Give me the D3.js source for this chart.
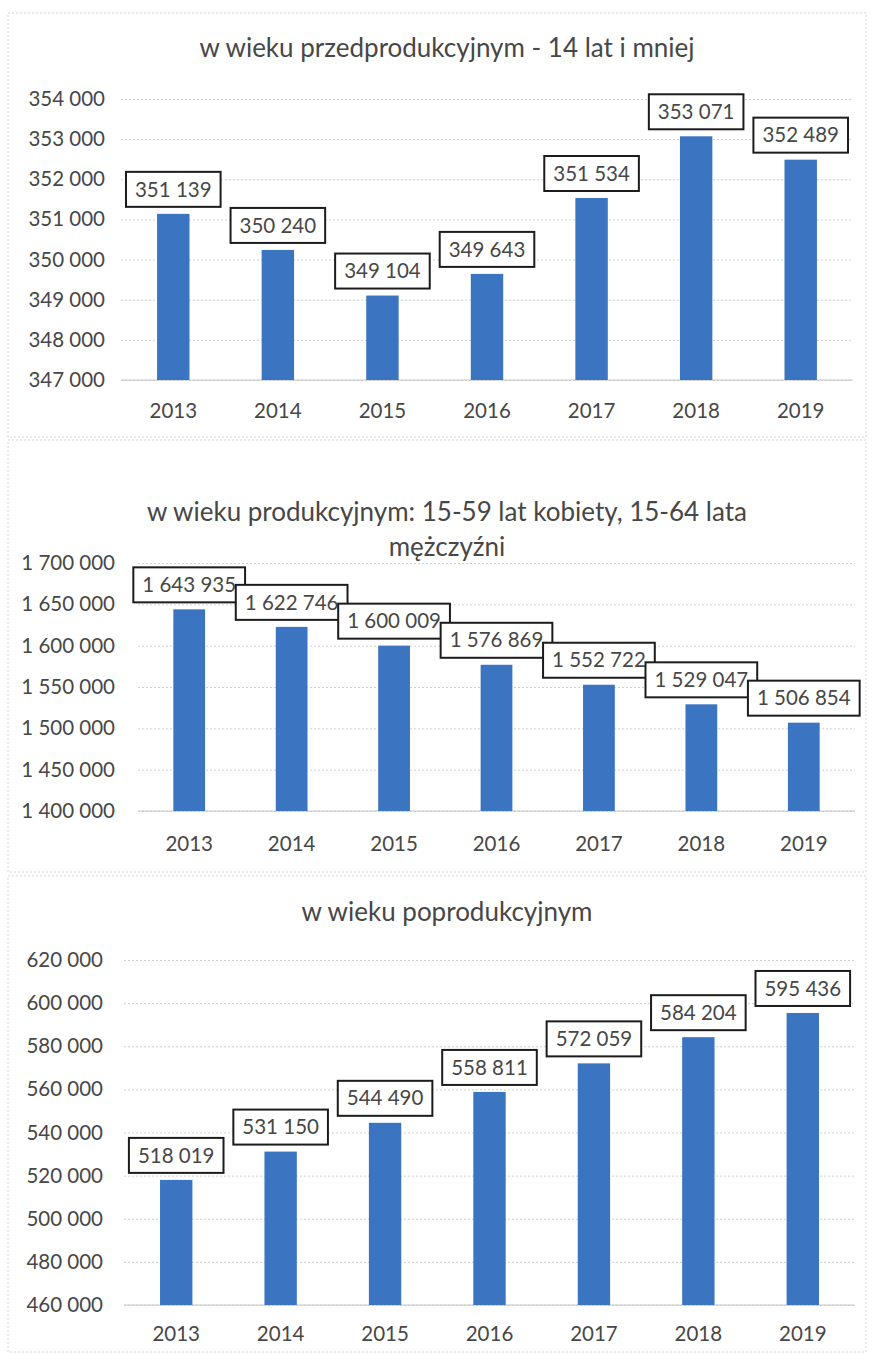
<!DOCTYPE html>
<html>
<head>
<meta charset="utf-8">
<script src="https://cdn.jsdelivr.net/npm/d3@7"></script>
<style>
  body { margin: 0; background: #fff; }
  svg { display: block; }
  text { font-family: Lato, "Open Sans", sans-serif; fill: #474747; }
</style>
</head>
<body>
<svg id="page" width="872" height="1355"></svg>
<script>
// years on the x axis
var years = ["2013", "2014", "2015", "2016", "2017", "2018", "2019"];

// population by age group
var preWorking = [351139, 350240, 349104, 349643, 351534, 353071, 352489];
var working = [1643935, 1622746, 1600009, 1576869, 1552722, 1529047, 1506854];
var postWorking = [518019, 531150, 544490, 558811, 572059, 584204, 595436];

// y axis ticks
var ticksPre = [347000, 348000, 349000, 350000, 351000, 352000, 353000, 354000];
var ticksWorking = [1400000, 1450000, 1500000, 1550000, 1600000, 1650000, 1700000];
var ticksPost = [460000, 480000, 500000, 520000, 540000, 560000, 580000, 600000, 620000];

var titlePre = ["w wieku przedprodukcyjnym - 14 lat i mniej"];
var titleWorking = ["w wieku produkcyjnym: 15-59 lat kobiety, 15-64 lata", "mężczyźni"];
var titlePost = ["w wieku poprodukcyjnym"];

var pl = d3.formatLocale({decimal: ",", thousands: " ", grouping: [3], currency: ["", " zł"]});
var fmt = pl.format(",d");

var barColour = "#3b74c0";

// layout of the three chart panels
var panels = [
  {title: titlePre, titleY: [57], values: preWorking, ticks: ticksPre,
   y0: 380, y1: 99, x0: 121, x1: 853, labelRight: 105, yearY: 418, frame: [8, 13, 866, 437]},
  {title: titleWorking, titleY: [521, 556], values: working, ticks: ticksWorking,
   y0: 811, y1: 563, x0: 138, x1: 855, labelRight: 115, yearY: 851, frame: [8, 440, 866, 872]},
  {title: titlePost, titleY: [921], values: postWorking, ticks: ticksPost,
   y0: 1305, y1: 960, x0: 124, x1: 855, labelRight: 103, yearY: 1341, frame: [8, 876, 866, 1352]}
];

var svg = d3.select("#page");

function drawPanel(p) {
  var g = svg.append("g");

  g.append("rect")
    .attr("x", p.frame[0]).attr("y", p.frame[1])
    .attr("width", p.frame[2] - p.frame[0])
    .attr("height", p.frame[3] - p.frame[1])
    .attr("fill", "none")
    .attr("stroke", "#d4d4d4")
    .attr("stroke-dasharray", "2,2");

  g.selectAll(".title")
    .data(p.title)
    .enter()
    .append("text")
    .attr("class", "title")
    .attr("x", 447)
    .attr("y", function(d, i) { return p.titleY[i]; })
    .attr("text-anchor", "middle")
    .style("font-size", "26px")
    .attr("fill", "#4a4a4a")
    .text(function(d) { return d; });

  var y = d3.scaleLinear()
    .domain([p.ticks[0], p.ticks[p.ticks.length - 1]])
    .range([p.y0, p.y1]);

  var x = d3.scaleBand()
    .domain(years)
    .range([p.x0, p.x1])
    .paddingInner(0.69)
    .paddingOuter(0.345);

  // gridlines + tick labels
  var yAxis = d3.axisLeft(y)
    .tickValues(p.ticks)
    .tickFormat(fmt)
    .tickSize(-(p.x1 - p.x0))
    .tickPadding(p.x0 - p.labelRight);

  var ya = g.append("g")
    .attr("transform", "translate(" + p.x0 + ",0)")
    .call(yAxis);
  ya.select(".domain").remove();
  ya.selectAll(".tick line")
    .attr("stroke", "#cfcfcf")
    .attr("stroke-dasharray", "2,2");
  ya.selectAll(".tick text")
    .attr("fill", "#474747")
    .style("font-size", "20.5px")
    .style("font-family", "Lato, sans-serif");

  // bottom line slightly stronger
  g.append("line")
    .attr("x1", p.x0).attr("x2", p.x1)
    .attr("y1", y(p.ticks[0])).attr("y2", y(p.ticks[0]))
    .attr("stroke", "#c4c4c4");

  var xAxis = d3.axisBottom(x).tickSize(0).tickPadding(0);
  var xa = g.append("g")
    .attr("transform", "translate(0," + p.yearY + ")")
    .call(xAxis);
  xa.select(".domain").remove();
  xa.selectAll(".tick text")
    .attr("dy", 0)
    .attr("fill", "#474747")
    .style("font-size", "20.5px")
    .style("font-family", "Lato, sans-serif");

  g.selectAll(".bar")
    .data(p.values)
    .enter()
    .append("rect")
    .attr("class", "bar")
    .attr("x", function(d, i) { return x(years[i]); })
    .attr("y", function(d) { return y(d); })
    .attr("width", x.bandwidth())
    .attr("height", function(d) { return y(p.ticks[0]) - y(d); })
    .attr("fill", barColour);

  // value labels in boxes
  var boxH = 35;
  p.values.forEach(function(d, i) {
    var cx = x(years[i]) + x.bandwidth() / 2;
    var cy = y(d) - 7 - boxH / 2;
    var lg = g.append("g");
    var box = lg.append("rect");
    var t = lg.append("text")
      .attr("x", cx)
      .attr("y", cy)
      .attr("dy", "0.35em")
      .attr("text-anchor", "middle")
      .style("font-size", "20.5px")
      .attr("fill", "#333")
      .text(fmt(d));
    var w = t.node().getComputedTextLength() + 18;
    box.attr("x", cx - w / 2)
      .attr("y", cy - boxH / 2)
      .attr("width", w)
      .attr("height", boxH)
      .attr("fill", "#fff")
      .attr("stroke", "#1c1c1c")
      .attr("stroke-width", 2);
  });
}

panels.forEach(drawPanel);
</script>
</body>
</html>
